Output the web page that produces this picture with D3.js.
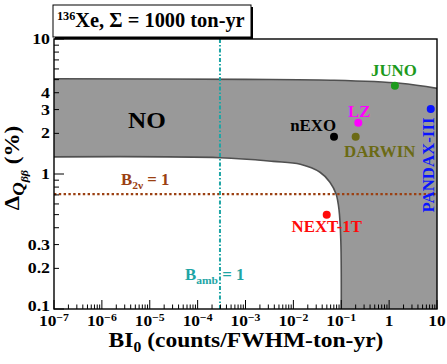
<!DOCTYPE html>
<html>
<head>
<meta charset="utf-8">
<script src="https://cdn.jsdelivr.net/npm/d3@7"></script>
<style>
  body { margin: 0; background: #fff; }
  text { font-family: "Liberation Serif", "DejaVu Serif", serif; font-weight: bold; }
</style>
</head>
<body>
<svg></svg>
<script>
// data
const xDecades = [1e-7, 1e-6, 1e-5, 1e-4, 1e-3, 1e-2, 1e-1, 1, 10]
const yTickLabels = [0.1, 0.2, 0.3, 1, 2, 3, 4, 10]

// allowed region ("NO"), upper and lower edges as (BI0, delta)
const upperBI = [1e-7, 1e-3, 0.06, 1.7, 10]
const upperDelta = [5.08, 5.02, 4.95, 4.7, 4.31]
const lowerBI = [1e-7, 3e-4, 3.8e-3, 0.014, 0.036, 0.058, 0.078, 0.09, 0.098, 0.1]
const lowerDelta = [1.34, 1.32, 1.24, 1.18, 1.03, 0.87, 0.71, 0.54, 0.32, 0.1]

const experiments = ['JUNO', 'LZ', 'nEXO', 'DARWIN', 'PANDAX-III', 'NEXT-1T']
const expBI = [1.32, 0.227, 0.0706, 0.2, 7.4, 0.0497]
const expDelta = [4.51, 2.40, 1.89, 1.89, 3.03, 0.50]

const b2nuDelta = 0.71
const bambBI = 2.93e-4

const W = 447, H = 364
const svg = d3.select('svg').attr('width', W).attr('height', H)
const x = d3.scaleLog().domain([1e-7, 10]).range([54, 437])
const y = d3.scaleLog().domain([0.1, 10]).range([309, 39])

const colors = {
    'JUNO': '#1c9a1c', 'LZ': '#ff00ff', 'nEXO': '#000000',
    'DARWIN': '#6b6a14', 'PANDAX-III': '#0a14ff', 'NEXT-1T': '#ff0a0a'
}
// label placement relative to each dot: dx, dy, anchor, rotate
const labelPos = {
    'JUNO': [-1, -10, 'middle', 0],
    'LZ': [1, -6, 'middle', 0],
    'nEXO': [2, -6, 'end', 0],
    'DARWIN': [24, 20, 'middle', 0],
    'PANDAX-III': [3, 56, 'middle', -90],
    'NEXT-1T': [0, 17.5, 'middle', 0]
}

// the reference text is a bit wider than the font, so stretch it sideways
const at = (px, py, k, rot) => 'translate(' + px + ',' + py + ')' + (rot ? ' rotate(' + rot + ')' : '') + ' scale(' + k + ',1)'

// shaded region
const upper = upperBI.map((b, i) => [x(b), y(upperDelta[i])])
const lower = lowerBI.map((b, i) => [x(b), y(lowerDelta[i])])
const smooth = d3.line().curve(d3.curveCatmullRom.alpha(0.5))
const region = smooth(upper) + 'L' + x(10) + ',' + y(0.1) +
    'L' + x(0.1) + ',' + y(0.1) + smooth(lower.slice().reverse()).replace('M', 'L') + 'Z'
svg.append('path').attr('d', region).attr('fill', '#999999')
svg.append('path').attr('d', smooth(upper)).attr('fill', 'none')
    .attr('stroke', '#505050').attr('stroke-width', 1.6)
svg.append('path').attr('d', smooth(lower)).attr('fill', 'none')
    .attr('stroke', '#505050').attr('stroke-width', 1.6)

// reference lines
svg.append('line')
    .attr('x1', x(1e-7)).attr('x2', x(10))
    .attr('y1', y(b2nuDelta)).attr('y2', y(b2nuDelta))
    .attr('stroke', '#9b4012').attr('stroke-width', 2.4).attr('stroke-dasharray', '2.4,2.4')
svg.append('line')
    .attr('x1', x(bambBI)).attr('x2', x(bambBI))
    .attr('y1', y(10)).attr('y2', y(0.1))
    .attr('stroke', '#1ea5a5').attr('stroke-width', 2).attr('stroke-dasharray', '4,2,1.5,2')

// frame
svg.append('rect').attr('x', 54).attr('y', 39).attr('width', 383).attr('height', 270)
    .attr('fill', 'none').attr('stroke', '#000').attr('stroke-width', 1.4)

// ticks
const xMinor = []
xDecades.slice(0, -1).forEach(d => { for (let k = 2; k < 10; k++) xMinor.push(d * k) })
svg.append('g').selectAll('line').data(xDecades).join('line')
    .attr('x1', d => x(d)).attr('x2', d => x(d)).attr('y1', 309).attr('y2', 300)
    .attr('stroke', '#000')
svg.append('g').selectAll('line').data(xMinor).join('line')
    .attr('x1', d => x(d)).attr('x2', d => x(d)).attr('y1', 309).attr('y2', 304.5)
    .attr('stroke', '#000')
const yMajor = [0.1, 1, 10]
const yMinor = []
;[0.1, 1].forEach(d => { for (let k = 2; k < 10; k++) yMinor.push(d * k) })
svg.append('g').selectAll('line').data(yMajor).join('line')
    .attr('y1', d => y(d)).attr('y2', d => y(d)).attr('x1', 54).attr('x2', 64)
    .attr('stroke', '#000')
svg.append('g').selectAll('line').data(yMinor).join('line')
    .attr('y1', d => y(d)).attr('y2', d => y(d)).attr('x1', 54).attr('x2', 59)
    .attr('stroke', '#000')

// tick labels
const xl = svg.append('g').selectAll('text').data(xDecades).join('text')
    .attr('transform', d => at(x(d), 326, 1.12)).attr('text-anchor', 'middle')
    .attr('font-size', 15.5)
xl.each(function(d) {
    const e = Math.round(Math.log10(d))
    const t = d3.select(this)
    if (e === 0) t.text('1')
    else if (e === 1) t.text('10')
    else {
        t.append('tspan').text('10')
        t.append('tspan').attr('dy', -5.5).attr('font-size', 10.5).text('\u2212' + (-e))
    }
})
svg.append('g').selectAll('text').data(yTickLabels).join('text')
    .attr('transform', d => at(50, y(d) + (d === 0.1 ? 2 : 5), 1.15)).attr('text-anchor', 'end')
    .attr('font-size', 15.5).text(d => d)

// axis titles
const xt = svg.append('text').attr('transform', at(246, 347, 1.12)).attr('text-anchor', 'middle')
    .attr('font-size', 21)
xt.append('tspan').text('BI')
xt.append('tspan').attr('dy', 5).attr('font-size', 14).text('0')
xt.append('tspan').attr('dy', -5).text(' (counts/FWHM-ton-yr)')

const yt = svg.append('text').attr('transform', at(19, 168, 1.1, -90))
    .attr('text-anchor', 'middle').attr('font-size', 21)
yt.append('tspan').text('\u0394')
yt.append('tspan').attr('dy', 5).attr('font-size', 17).attr('font-style', 'italic').text('Q')
yt.append('tspan').attr('dy', 4).attr('font-size', 11).attr('font-style', 'italic').text('\u03b2\u03b2')
yt.append('tspan').attr('dy', -9).text(' (%)')

// title box
svg.append('rect').attr('x', 55).attr('y', 7).attr('width', 198).attr('height', 32).attr('fill', '#000')
svg.append('rect').attr('x', 53).attr('y', 5).attr('width', 198).attr('height', 32)
    .attr('fill', '#fff').attr('stroke', '#000').attr('stroke-width', 1)
const tt = svg.append('text').attr('transform', at(57, 27, 1.02)).attr('font-size', 20)
tt.append('tspan').attr('dy', -7).attr('font-size', 12).text('136')
tt.append('tspan').attr('dy', 7).text('Xe, \u03a3 = 1000 ton-yr')

// region label
svg.append('text').attr('transform', at(147, 128, 1.05)).attr('text-anchor', 'middle')
    .attr('font-size', 24).text('NO')

// line labels
const b2 = svg.append('text').attr('transform', at(121, 185, 1.05)).attr('font-size', 16).attr('fill', '#9b4012')
b2.append('tspan').text('B')
b2.append('tspan').attr('dy', 4).attr('font-size', 11).text('2\u03bd')
b2.append('tspan').attr('dy', -4).text(' = 1')
const ba = svg.append('text').attr('transform', at(185, 280, 1.05)).attr('font-size', 16).attr('fill', '#1ea5a5')
ba.append('tspan').text('B')
ba.append('tspan').attr('dy', 4).attr('font-size', 11).text('amb')
ba.append('tspan').attr('dy', -4).text(' = 1')

// experiments
const pts = experiments.map((name, i) => ({ name, bi: expBI[i], delta: expDelta[i] }))
svg.append('g').selectAll('circle').data(pts).join('circle')
    .attr('cx', d => x(d.bi)).attr('cy', d => y(d.delta)).attr('r', 4)
    .attr('fill', d => colors[d.name])
svg.append('g').selectAll('text').data(pts).join('text')
    .attr('transform', d => {
        const p = labelPos[d.name]
        return at(x(d.bi) + p[0], y(d.delta) + p[1], 1.02, p[3])
    })
    .attr('text-anchor', d => labelPos[d.name][2])
    .attr('font-size', 16.5)
    .attr('fill', d => colors[d.name])
    .text(d => d.name)
</script>
</body>
</html>
